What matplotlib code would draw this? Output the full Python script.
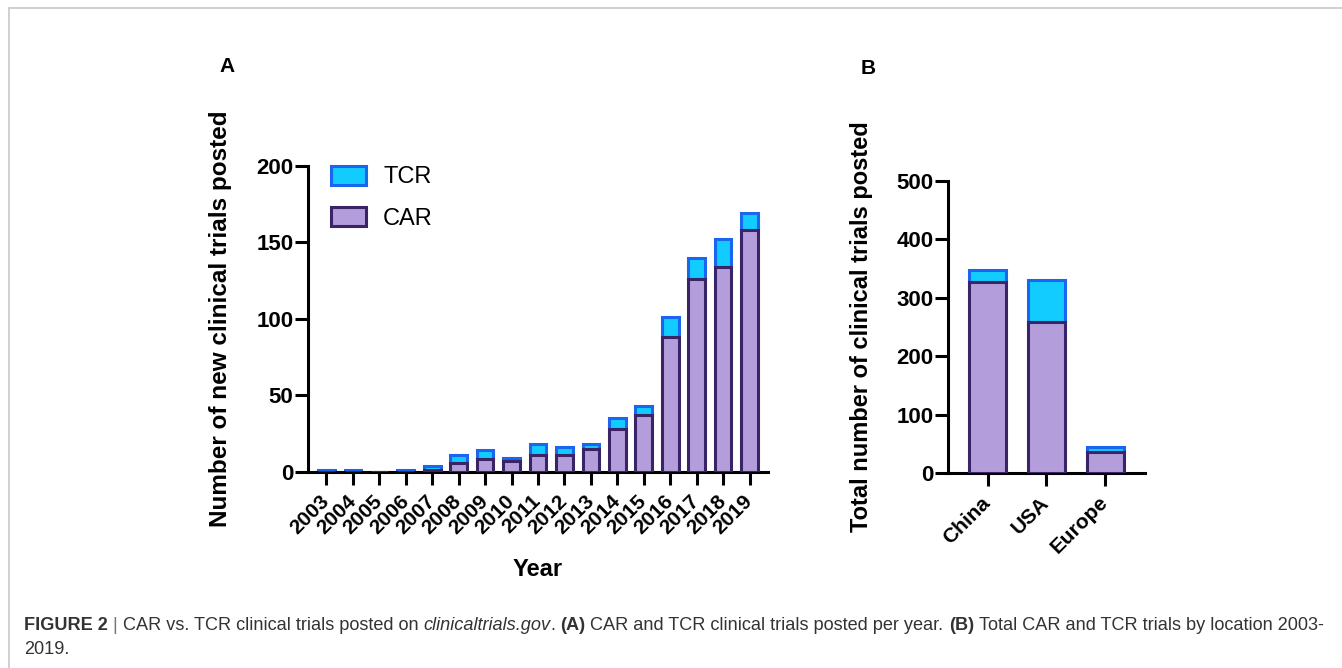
import matplotlib
matplotlib.use("Agg")
import matplotlib.pyplot as plt
from matplotlib.lines import Line2D
import numpy as np

# ----------------------------
# Data
# ----------------------------
years = ["2003", "2004", "2005", "2006", "2007", "2008", "2009", "2010", "2011",
         "2012", "2013", "2014", "2015", "2016", "2017", "2018", "2019"]
car_per_year = [0, 0, 0, 0, 1, 6, 8, 7, 11, 11, 15, 28, 37, 88, 126, 134, 158]
tcr_per_year = [1, 1, 0, 1, 3, 5, 6, 2, 7, 5, 3, 7, 6, 13, 14, 18, 11]

locations = ["China", "USA", "Europe"]
car_by_location = [327, 258, 36]
tcr_by_location = [21, 73, 9]

# ----------------------------
# Style
# ----------------------------
TCR_FACE = "#12ccff"
TCR_EDGE = "#1a66f0"
CAR_FACE = "#b39ddb"
CAR_EDGE = "#3a2468"
BAR_LW = 2.2
W, H = 1342, 668

plt.rcParams["font.family"] = ["Liberation Sans", "DejaVu Sans"]


def style_axis(ax):
    for side in ["top", "right"]:
        ax.spines[side].set_visible(False)
    for side in ["left", "bottom"]:
        ax.spines[side].set_linewidth(2.2)
    ax.tick_params(axis="both", width=2.2, length=9.5)
    ax.tick_params(axis="y", labelsize=16, pad=1)
    ax.tick_params(axis="x", labelsize=15, pad=9.5)
    for lbl in ax.get_yticklabels() + ax.get_xticklabels():
        lbl.set_fontweight("bold")


def stacked(ax, labels, car, tcr, width):
    x = np.arange(len(labels))
    h_tcr = ax.bar(x, tcr, width, bottom=car, color=TCR_FACE, edgecolor=TCR_EDGE,
                   linewidth=BAR_LW, label="TCR", zorder=2)
    h_car = ax.bar(x, car, width, color=CAR_FACE, edgecolor=CAR_EDGE,
                   linewidth=BAR_LW, label="CAR", zorder=3)
    ax.set_xticks(x)
    ax.set_xticklabels(labels, rotation=45, ha="right", va="center",
                       rotation_mode="anchor", fontweight="bold")
    return h_tcr, h_car


fig = plt.figure(figsize=(W / 100, H / 100), dpi=100)

# ----------------------------
# Panel A
# ----------------------------
axA = fig.add_axes([0.2295, 0.2939, 0.3428, 0.4576])
h_tcr, h_car = stacked(axA, years, car_per_year, tcr_per_year, 0.63)
axA.set_xlim(-0.7, 16.7)
axA.set_ylim(0, 200)
axA.set_yticks([0, 50, 100, 150, 200])
style_axis(axA)
axA.set_ylabel("Number of new clinical trials posted", fontsize=17.5, fontweight="bold")
axA.yaxis.set_label_coords(-0.165, 0.5)
axA.set_xlabel("Year", fontsize=17, fontweight="bold", va="center")
axA.xaxis.set_label_coords(0.5, -0.32)
axA.legend([h_tcr, h_car], ["TCR", "CAR"], loc="upper left",
           bbox_to_anchor=(0.004, 1.07), frameon=False, fontsize=17,
           handlelength=1.5, handleheight=0.85, labelspacing=0.8,
           handletextpad=0.7)

# ----------------------------
# Panel B
# ----------------------------
axB = fig.add_axes([0.7064, 0.2915, 0.1468, 0.4380])
stacked(axB, locations, car_by_location, tcr_by_location, 0.63)
axB.set_xlim(-0.67, 2.67)
axB.set_ylim(0, 500)
axB.set_yticks([0, 100, 200, 300, 400, 500])
style_axis(axB)
axB.set_ylabel("Total number of clinical trials posted", fontsize=17, fontweight="bold")
axB.yaxis.set_label_coords(-0.38, 0.5)

# panel letters
fig.text(227 / W, 1 - 67 / H, "A", fontsize=15, fontweight="bold",
         ha="center", va="center")
fig.text(868 / W, 1 - 68 / H, "B", fontsize=15, fontweight="bold",
         ha="center", va="center")

# ----------------------------
# Frame lines (top + left)
# ----------------------------
frame_col = "#c8c8c8"
fig.add_artist(Line2D([9 / W, 1], [1 - 8 / H] * 2, transform=fig.transFigure,
                      color=frame_col, lw=1.2))
fig.add_artist(Line2D([9 / W] * 2, [0, 1 - 8 / H], transform=fig.transFigure,
                      color=frame_col, lw=1.2))

# ----------------------------
# Caption (mixed styles laid out piece by piece)
# ----------------------------
cap_col = "#333333"
renderer = fig.canvas.get_renderer()

pieces = [
    ("FIGURE 2", "bold", "normal", cap_col),
    ("|", "normal", "normal", "#777777"),
    ("CAR vs. TCR clinical trials posted on", "normal", "normal", cap_col),
    ("clinicaltrials.gov", "normal", "italic", cap_col),
    (".", "normal", "normal", cap_col),
    ("(A)", "bold", "normal", cap_col),
    ("CAR and TCR clinical trials posted per year.", "normal", "normal", cap_col),
    ("(B)", "bold", "normal", cap_col),
    ("Total CAR and TCR trials by location 2003-", "normal", "normal", cap_col),
]
no_space_before = {4}


def text_width(s, size, **kw):
    t = fig.text(0, 0, s, fontsize=size, **kw)
    w = t.get_window_extent(renderer).width
    t.remove()
    return w


def layout_caption(x0, y, size, draw):
    space_w = text_width("x x", size) - text_width("xx", size)
    x_px = x0
    for i, (s, weight, style, col) in enumerate(pieces):
        if i > 0 and i not in no_space_before:
            x_px += space_w
        if draw:
            t = fig.text(x_px / W, y, s, fontsize=size, fontweight=weight,
                         fontstyle=style, color=col, va="center")
            x_px += t.get_window_extent(renderer).width
        else:
            x_px += text_width(s, size, fontweight=weight, fontstyle=style)
    return x_px - x0


cap_x0, cap_x1 = 24, 1322
base = 13.0
cap_size = base * (cap_x1 - cap_x0) / layout_caption(cap_x0, 0, base, False)
layout_caption(cap_x0, 1 - 626 / H, cap_size, True)
fig.text(cap_x0 / W, 1 - 650 / H, "2019.", fontsize=cap_size, color=cap_col,
         va="center")

fig.savefig("out.png", dpi=100)
